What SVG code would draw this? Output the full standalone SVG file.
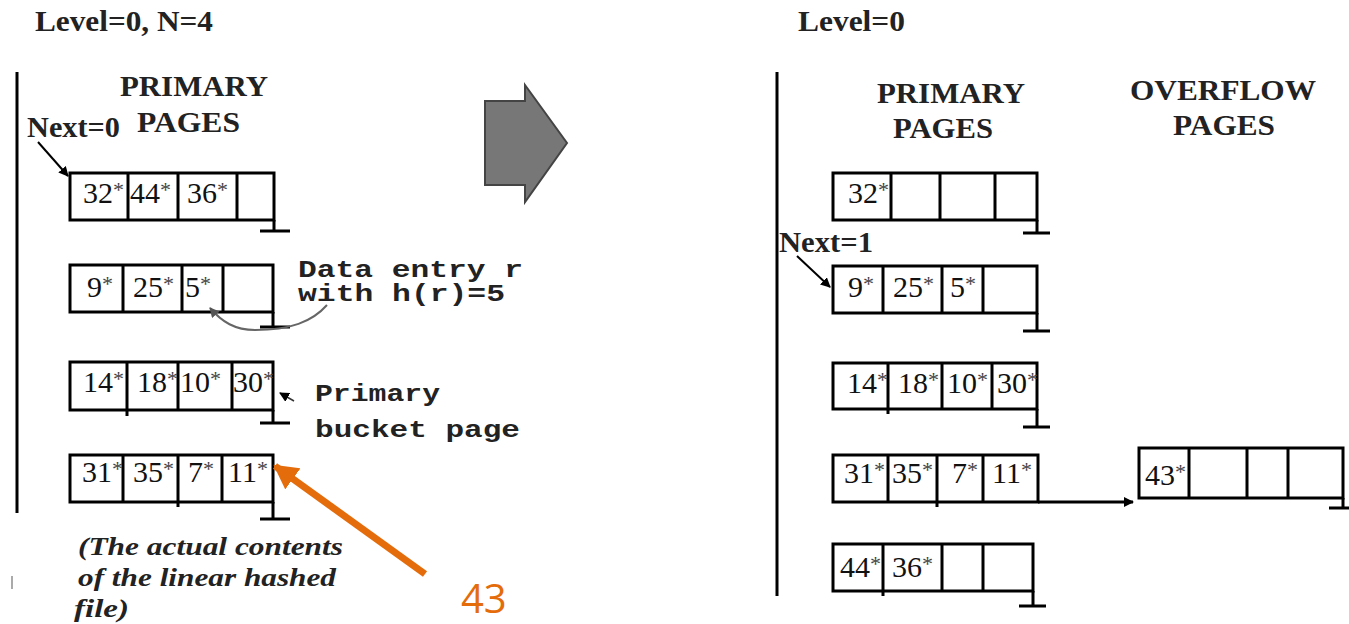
<svg xmlns="http://www.w3.org/2000/svg" width="1349" height="624" viewBox="0 0 1349 624">
<style>
.bx{fill:none;stroke:#000;stroke-width:3}
.ln{stroke:#000;stroke-width:3;fill:none}
.num{font-family:"Liberation Serif","Times New Roman",serif;font-size:30px;fill:#111}
.st{font-size:22px;fill:#444}
.hd{font-family:"Liberation Serif","Times New Roman",serif;font-weight:bold;font-size:30px;fill:#222}
.cr{font-family:"Liberation Mono","Courier New",monospace;font-weight:bold;font-size:23px;fill:#222}
.it{font-family:"Liberation Serif","Times New Roman",serif;font-weight:bold;font-style:italic;font-size:26px;fill:#222}
</style>
<defs>
<marker id="ah" markerWidth="10" markerHeight="10" refX="9" refY="5" orient="auto" markerUnits="userSpaceOnUse"><path d="M0,0 L10,5 L0,10 z" fill="#000"/></marker>
<marker id="ahg" markerWidth="10" markerHeight="10" refX="9" refY="5" orient="auto" markerUnits="userSpaceOnUse"><path d="M0,0 L10,5 L0,10 z" fill="#555"/></marker>
<marker id="aho" markerWidth="26" markerHeight="26" refX="22" refY="13" orient="auto" markerUnits="userSpaceOnUse"><path d="M0,0 L24,13 L0,26 z" fill="#E46C0A"/></marker>
</defs>

<!-- titles / labels -->
<g id="left-labels">
<text class="hd" x="35" y="31" textLength="178" lengthAdjust="spacingAndGlyphs" font-size="27">Level=0, N=4</text>
<text class="hd" x="120" y="96" textLength="148" lengthAdjust="spacingAndGlyphs">PRIMARY</text>
<text class="hd" x="137" y="132" textLength="103" lengthAdjust="spacingAndGlyphs">PAGES</text>
<text class="hd" x="27" y="137" textLength="93" lengthAdjust="spacingAndGlyphs">Next=0</text>
<line x1="17" y1="72" x2="17" y2="513" class="ln"/>
<line x1="12" y1="576" x2="12" y2="589" stroke="#aaa" stroke-width="2"/>
</g>

<g id="right-labels">
<text class="hd" x="798" y="31" textLength="107" lengthAdjust="spacingAndGlyphs" font-size="27">Level=0</text>
<text class="hd" x="877" y="103" textLength="148" lengthAdjust="spacingAndGlyphs">PRIMARY</text>
<text class="hd" x="893" y="138" textLength="100" lengthAdjust="spacingAndGlyphs">PAGES</text>
<text class="hd" x="1130" y="100" textLength="186" lengthAdjust="spacingAndGlyphs">OVERFLOW</text>
<text class="hd" x="1173" y="135" textLength="102" lengthAdjust="spacingAndGlyphs">PAGES</text>
<text class="hd" x="779" y="252" textLength="94" lengthAdjust="spacingAndGlyphs">Next=1</text>
<line x1="777" y1="72" x2="777" y2="596" class="ln"/>
</g>

<!-- transition arrow -->
<g id="transition">
<polygon points="485,101 525,101 525,85 567,143 525,202 525,185 485,185" fill="#777" stroke="#444" stroke-width="2"/>
</g>

<!-- left buckets -->
<g id="L0">
<rect x="70" y="173" width="204" height="47" class="bx"/>
<path class="ln" d="M128,173V220M178,173V220M237,173V220M274,220V231M260,231H290"/>
<text class="num" x="83" y="203">32<tspan class="st" dy="-6">*</tspan></text>
<text class="num" x="130" y="203">44<tspan class="st" dy="-6">*</tspan></text>
<text class="num" x="187" y="203">36<tspan class="st" dy="-6">*</tspan></text>
</g>
<g id="L1">
<rect x="70" y="265" width="203" height="47" class="bx"/>
<path class="ln" d="M123,265V312M182,265V312M223,265V312M273,312V327M260,327H290"/>
<text class="num" x="87" y="297">9<tspan class="st" dy="-6">*</tspan></text>
<text class="num" x="133" y="297">25<tspan class="st" dy="-6">*</tspan></text>
<text class="num" x="185" y="297">5<tspan class="st" dy="-6">*</tspan></text>
</g>
<g id="L2">
<rect x="70" y="362" width="203" height="48" class="bx"/>
<path class="ln" d="M127,362V416M178,362V410M232,362V410M273,410V423M260,423H290"/>
<text class="num" x="83" y="392">14<tspan class="st" dy="-6">*</tspan></text>
<text class="num" x="137" y="392">18<tspan class="st" dy="-6">*</tspan></text>
<text class="num" x="180" y="392">10<tspan class="st" dy="-6">*</tspan></text>
<text class="num" x="233" y="392">30<tspan class="st" dy="-6">*</tspan></text>
</g>
<g id="L3">
<rect x="70" y="455" width="203" height="47" class="bx"/>
<path class="ln" d="M123,455V502M178,455V507M222,455V502M273,502V519M260,519H290"/>
<text class="num" x="82" y="482">31<tspan class="st" dy="-6">*</tspan></text>
<text class="num" x="133" y="482">35<tspan class="st" dy="-6">*</tspan></text>
<text class="num" x="188" y="482">7<tspan class="st" dy="-6">*</tspan></text>
<text class="num" x="228" y="482">11<tspan class="st" dy="-6">*</tspan></text>
</g>

<g id="left-notes">
<text class="cr" x="298" y="277" font-size="20" textLength="225" lengthAdjust="spacingAndGlyphs">Data entry r</text>
<text class="cr" x="298" y="301" font-size="20" textLength="207" lengthAdjust="spacingAndGlyphs">with h(r)=5</text>
<text class="cr" x="315" y="401" textLength="125" lengthAdjust="spacingAndGlyphs">Primary</text>
<text class="cr" x="315" y="437" textLength="205" lengthAdjust="spacingAndGlyphs">bucket page</text>
<text class="it" x="78" y="555" textLength="265" lengthAdjust="spacingAndGlyphs">(The actual contents</text>
<text class="it" x="78" y="586" textLength="258" lengthAdjust="spacingAndGlyphs">of the linear hashed</text>
<text class="it" x="74" y="617" textLength="55" lengthAdjust="spacingAndGlyphs">file)</text>
<text x="461" y="613" font-family="'Open Sans','Liberation Sans',sans-serif" font-size="40" fill="#E46C0A">43</text>
</g>

<!-- right buckets -->
<g id="R0">
<rect x="833" y="173" width="204" height="47" class="bx"/>
<path class="ln" d="M891,173V220M940,173V220M995,173V220M1037,220V233M1023,233H1050"/>
<text class="num" x="848" y="203">32<tspan class="st" dy="-6">*</tspan></text>
</g>
<g id="R1">
<rect x="833" y="266" width="204" height="47" class="bx"/>
<path class="ln" d="M883,266V313M942,266V313M983,266V313M1037,313V331M1023,331H1050"/>
<text class="num" x="848" y="297">9<tspan class="st" dy="-6">*</tspan></text>
<text class="num" x="893" y="297">25<tspan class="st" dy="-6">*</tspan></text>
<text class="num" x="950" y="297">5<tspan class="st" dy="-6">*</tspan></text>
</g>
<g id="R2">
<rect x="833" y="363" width="204" height="46" class="bx"/>
<path class="ln" d="M888,363V414M942,363V409M992,363V409M1037,409V427M1023,427H1050"/>
<text class="num" x="847" y="393">14<tspan class="st" dy="-6">*</tspan></text>
<text class="num" x="898" y="393">18<tspan class="st" dy="-6">*</tspan></text>
<text class="num" x="947" y="393">10<tspan class="st" dy="-6">*</tspan></text>
<text class="num" x="997" y="393">30<tspan class="st" dy="-6">*</tspan></text>
</g>
<g id="R3">
<rect x="833" y="455" width="205" height="47" class="bx"/>
<path class="ln" d="M888,455V502M937,455V507M983,455V502"/>
<text class="num" x="844" y="483">31<tspan class="st" dy="-6">*</tspan></text>
<text class="num" x="892" y="483">35<tspan class="st" dy="-6">*</tspan></text>
<text class="num" x="952" y="483">7<tspan class="st" dy="-6">*</tspan></text>
<text class="num" x="992" y="483">11<tspan class="st" dy="-6">*</tspan></text>
</g>
<g id="R4">
<rect x="833" y="544" width="200" height="47" class="bx"/>
<path class="ln" d="M883,544V596M942,544V591M983,544V591M1033,591V606M1019,606H1046"/>
<text class="num" x="840" y="577">44<tspan class="st" dy="-6">*</tspan></text>
<text class="num" x="892" y="577">36<tspan class="st" dy="-6">*</tspan></text>
</g>
<g id="OV0">
<rect x="1139" y="448" width="204" height="50" class="bx"/>
<path class="ln" d="M1189,448V498M1247,448V498M1288,448V498M1343,498V508M1329,508H1349"/>
<text class="num" x="1145" y="485">43<tspan class="st" dy="-6">*</tspan></text>
</g>

<!-- connectors -->
<g id="connectors">
<line x1="38" y1="142" x2="68" y2="176" stroke="#000" stroke-width="2" marker-end="url(#ah)"/>
<line x1="797" y1="256" x2="830" y2="287" stroke="#000" stroke-width="2" marker-end="url(#ah)"/>
<path d="M327,305 C312,322 290,330 255,330 C235,330 222,322 210,308" fill="none" stroke="#666" stroke-width="2" marker-end="url(#ahg)"/>
<line x1="294" y1="401" x2="280" y2="393" stroke="#333" stroke-width="1.5" marker-end="url(#ah)"/>
<line x1="1038" y1="502" x2="1133" y2="502" stroke="#000" stroke-width="3" marker-end="url(#ah)"/>
<line x1="425" y1="574" x2="275" y2="466" stroke="#E46C0A" stroke-width="7" marker-end="url(#aho)"/>
</g>
</svg>
